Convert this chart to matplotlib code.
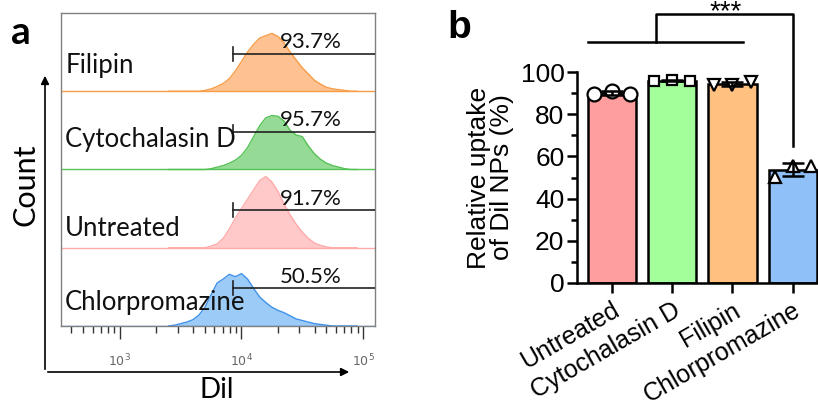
import numpy as np
import matplotlib.pyplot as plt
from matplotlib.patches import FancyArrowPatch
from matplotlib.ticker import LogLocator, NullFormatter, FixedLocator

# ---- panel a: flow cytometry histograms (log10 DiI, relative count) ----
dil_log = [3.40, 3.45, 3.50, 3.55, 3.60, 3.65, 3.70, 3.75, 3.80, 3.85, 3.90,
           3.95, 4.00, 4.05, 4.10, 4.15, 4.20, 4.25, 4.30, 4.35, 4.40, 4.45,
           4.50, 4.55, 4.60, 4.65, 4.70, 4.75, 4.80, 4.85, 4.90, 4.95]
count_filipin = [0, 0, 0, 0, 0, 0, 0.01, 0.03, 0.06, 0.10, 0.16, 0.26, 0.38,
                 0.50, 0.60, 0.68, 0.71, 0.74, 0.70, 0.62, 0.50, 0.40, 0.30,
                 0.22, 0.14, 0.09, 0.05, 0.03, 0.02, 0.01, 0, 0]
count_cyto = [0, 0, 0, 0, 0, 0, 0, 0.01, 0.03, 0.05, 0.08, 0.12, 0.18, 0.28,
              0.42, 0.56, 0.66, 0.69, 0.68, 0.62, 0.50, 0.44, 0.42, 0.30, 0.20,
              0.13, 0.08, 0.05, 0.03, 0.01, 0, 0]
count_untreated = [0, 0, 0, 0, 0, 0, 0, 0.02, 0.05, 0.12, 0.24, 0.38, 0.50,
                   0.62, 0.74, 0.86, 0.91, 0.84, 0.72, 0.56, 0.42, 0.30, 0.20,
                   0.12, 0.06, 0.03, 0.01, 0, 0, 0, 0, 0]
count_chlor = [0, 0.01, 0.03, 0.05, 0.08, 0.14, 0.24, 0.40, 0.55, 0.60, 0.66,
               0.63, 0.67, 0.60, 0.48, 0.37, 0.30, 0.24, 0.20, 0.17, 0.13, 0.09,
               0.07, 0.05, 0.03, 0.02, 0.01, 0, 0, 0, 0, 0]

hist_names = ['Chlorpromazine', 'Untreated', 'Cytochalasin D', 'Filipin']
hist_counts = [count_chlor, count_untreated, count_cyto, count_filipin]
hist_pct = ['50.5%', '91.7%', '95.7%', '93.7%']
gate_log = 3.93

# ---- panel b: relative uptake ----
groups = ['Untreated', 'Cytochalasin D', 'Filipin', 'Chlorpromazine']
uptake = [[89.6, 91.2, 89.8],
          [95.8, 96.1, 95.9],
          [93.8, 94.0, 95.2],
          [50.3, 55.5, 55.3]]

hist_fill = ['#9ccbf8', '#ffc9c9', '#95db95', '#fec191']
hist_edge = ['#3f91ea', '#ffaaaa', '#55c255', '#f89c45']
bar_colors = ['#ff9e9e', '#a2ff9a', '#ffc080', '#90c0f8']
bar_markers = ['o', 's', 'v', '^']
marker_sizes = [10, 7, 9, 9]

fig = plt.figure(figsize=(8.18, 4.07), dpi=100)
W, H = 818, 407


def px_axes(x0, y0, x1, y1):
    # pixel box (top-left origin) -> figure axes
    return fig.add_axes([x0 / W, 1 - y1 / H, (x1 - x0) / W, (y1 - y0) / H])


# ================= panel a =================
axa = px_axes(61, 13, 375, 326)
x_vals = 10 ** np.array(dil_log)
for i, (name, cnt) in enumerate(zip(hist_names, hist_counts)):
    base = i
    axa.fill_between(x_vals, base, base + np.array(cnt), color=hist_fill[i], lw=0)
    axa.plot(x_vals, base + np.array(cnt), color=hist_edge[i], lw=1.0)
    axa.axhline(base + 0.003, color=hist_edge[i], lw=1.0)
    # gate
    gy = base + 0.48
    axa.plot([10 ** gate_log, 10 ** 5.2], [gy, gy], color='#222222', lw=1.2, zorder=4)
    axa.plot([10 ** gate_log] * 2, [gy - 0.09, gy + 0.09], color='#222222', lw=1.2, zorder=4)
    axa.text(10 ** 4.57, gy + 0.02, hist_pct[i], ha='center', va='bottom',
             fontsize=16, family='Lato', color='#111111', zorder=5)
label_y = [0.30, 0.24, 0.38, 0.33]
for i, name in enumerate(hist_names):
    axa.text(10 ** 2.55, i + label_y[i], name, ha='left', va='center',
             fontsize=18.5, family='Lato', color='#111111', zorder=5)

axa.set_xscale('log')
axa.set_xlim(10 ** 2.516, 10 ** 5.098)
axa.set_ylim(0, 4)
axa.set_yticks([])
for s in axa.spines.values():
    s.set_color('#808080')
    s.set_linewidth(1.0)
axa.xaxis.set_major_locator(FixedLocator([1e3, 1e4, 1e5]))
axa.xaxis.set_minor_locator(LogLocator(base=10, subs=np.arange(2, 10)))
axa.xaxis.set_minor_formatter(NullFormatter())
axa.set_xticklabels([r'$10^3$', r'$10^4$', r'$10^5$'])
axa.tick_params(axis='x', which='major', length=9, width=1.0, color='#333333',
                labelsize=9, labelcolor='#666666', pad=10)
axa.tick_params(axis='x', which='minor', length=5, width=1.0, color='#333333')

# axis arrows
fig.patches.append(FancyArrowPatch(
    (45 / W, 1 - 372 / H), (45 / W, 1 - 73 / H), transform=fig.transFigure,
    arrowstyle='-|>', mutation_scale=12, lw=1.2, color='black'))
fig.patches.append(FancyArrowPatch(
    (45 / W, 1 - 372 / H), (352 / W, 1 - 372 / H), transform=fig.transFigure,
    arrowstyle='-|>', mutation_scale=12, lw=1.2, color='black'))
fig.text(26 / W, 1 - 185 / H, 'Count', rotation=90, ha='center', va='center',
         fontsize=22, family='Lato')
fig.text(217 / W, 1 - 390 / H, 'Dil', ha='center', va='center',
         fontsize=20, family='Lato')
fig.text(21 / W, 1 - 33 / H, 'a', ha='center', va='center', fontsize=28,
         fontweight='bold', family='Lato')
fig.text(459 / W, 1 - 28 / H, 'b', ha='center', va='center', fontsize=28,
         fontweight='bold', family='Liberation Sans')

# ================= panel b =================
axb = px_axes(577, 72, 818, 283)
pos = np.arange(len(groups))
means = [np.mean(v) for v in uptake]
sds = [np.std(v, ddof=1) for v in uptake]
axb.bar(pos, means, width=0.8, color=bar_colors, edgecolor='black', lw=1.8, zorder=2)
for i, vals in enumerate(uptake):
    axb.plot(pos[i] + np.array([-0.3, 0, 0.3]), vals, ls='none', marker=bar_markers[i],
             ms=marker_sizes[i], mfc='white', mec='black', mew=1.6, zorder=3,
             clip_on=False)
axb.errorbar(pos, means, yerr=sds, fmt='none', ecolor='black', elinewidth=1.8,
             capsize=8, capthick=1.8, zorder=4, clip_on=False)

axb.set_xlim(-0.58, 3.42)
axb.set_ylim(0, 100)
axb.set_yticks([0, 20, 40, 60, 80, 100])
axb.set_yticks([10, 30, 50, 70, 90], minor=True)
axb.set_xticks(pos)
axb.set_xticklabels(groups, rotation=30, ha='right', rotation_mode='anchor',
                    family='Liberation Sans', fontsize=18)
for lab in axb.get_yticklabels():
    lab.set_family('Liberation Sans')
axb.tick_params(axis='y', which='major', length=7, width=1.8, labelsize=19, pad=2)
axb.tick_params(axis='y', which='minor', length=4, width=1.8)
axb.tick_params(axis='x', length=7, width=1.8, pad=4)
axb.spines['top'].set_visible(False)
axb.spines['right'].set_visible(False)
axb.spines['left'].set_linewidth(1.8)
axb.spines['bottom'].set_linewidth(1.8)
axb.set_ylabel('Relative uptake\nof Dil NPs (%)', family='Liberation Sans',
               fontsize=19, labelpad=5, linespacing=0.95)

# significance bracket
kw = dict(color='black', lw=1.8, clip_on=False)
axb.plot([-0.40, 2.17], [114.1, 114.1], **kw)
axb.plot([0.73, 0.73, 3.0, 3.0], [114.1, 127.4, 127.4, 64.8], **kw)
axb.text(1.88, 125.0, '***', ha='center', va='baseline', fontsize=20,
         family='Liberation Sans', clip_on=False)

fig.savefig('out.png', dpi=100)
